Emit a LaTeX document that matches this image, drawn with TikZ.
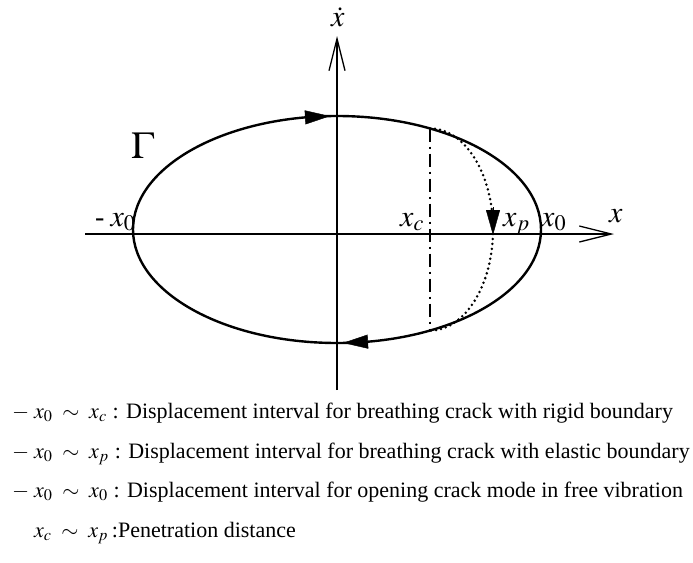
\documentclass[tikz,border=0pt]{standalone}
\usepackage{mathptmx}
\usepackage{fontspec}
\setmainfont{Liberation Serif}
\usetikzlibrary{arrows.meta}

\begin{document}
\begin{tikzpicture}[x=1pt, y=-1pt,
  axis/.style={line width=1.3pt, -{Straight Barb[length=32pt,width=16pt,line width=1.3pt]}},
  orbit/.style={line width=2.4pt},
  crackline/.style={line width=2pt, dash pattern=on 13pt off 5pt on 2pt off 5pt},
  elastic/.style={line width=2.8pt, line cap=round, dash pattern=on 0pt off 5pt},
  dirarr/.style={line width=0.4pt, -{Triangle[length=25pt,width=14pt]}},
  lbl/.style={anchor=base west, inner sep=0pt, font=\fontsize{30}{32}\selectfont},
  legend/.style={anchor=base west, inner sep=0pt, font=\fontsize{22}{26}\selectfont}
]
\useasboundingbox (0,0) rectangle (693,562);

% axes
\coordinate (xstart) at (85,234);
\coordinate (xend)   at (614,234);
\coordinate (ystart) at (337,390);
\coordinate (yend)   at (337,36);
\draw[axis] (xstart) -- (xend);
\draw[axis] (ystart) -- (yend);

% phase trajectory
\coordinate (centre) at (337,229.5);
\draw[orbit] (centre) ellipse [x radius=204pt, y radius=113.5pt];

% crack boundary and penetration path
\coordinate (ctop) at (430,128.5);
\coordinate (cbot) at (430,330.5);
\draw[crackline] (ctop) -- (cbot);
\draw[elastic] (ctop) arc[start angle=90, end angle=-90, x radius=63pt, y radius=101pt];

% direction marks
\coordinate (t1) at (305,117.4);
\coordinate (t2) at (330,116.1);
\coordinate (b1) at (369,341.6);
\coordinate (b2) at (343,342.9);
\coordinate (p1) at (493,207);
\coordinate (p2) at (493,235);
\draw[dirarr] (t1) -- (t2);
\draw[dirarr] (b1) -- (b2);
\draw[dirarr] (p1) -- (p2);

% labels
\node[lbl] (xdot)  at (331,26)  {$\dot{x}$};
\node[lbl] (xlab)  at (609,222) {$x$};
\node[lbl, font=\fontsize{38}{42}\selectfont] (gamma) at (131,158) {$\Gamma$};
\node[lbl] (mx0)   at (95,226)  {{\fontsize{28}{30}\selectfont -}\hspace{6pt}$x_0$};
\node[lbl] (xc)    at (400,226) {$x_c$};
\node[lbl] (xp)    at (503,226) {$x_p$};
\node[lbl] (x0)    at (541,226) {$x_0$};

% legend
\node[legend] (rigid)   at (12,418) {$-\;x_0\;\sim\;x_c$\hspace{6pt}: Displacement interval for breathing crack with rigid boundary};
\node[legend] (elast)   at (12,458) {$-\;x_0\;\sim\;x_p$\hspace{6pt}: Displacement interval for breathing crack with elastic boundary};
\node[legend] (opening) at (12,497) {$-\;x_0\;\sim\;x_0$\hspace{6pt}: Displacement interval for opening crack mode in free vibration};
\node[legend] (penet)   at (34,537) {$x_c\;\sim\;x_p$\hspace{4pt}:Penetration distance};
\end{tikzpicture}
\end{document}
